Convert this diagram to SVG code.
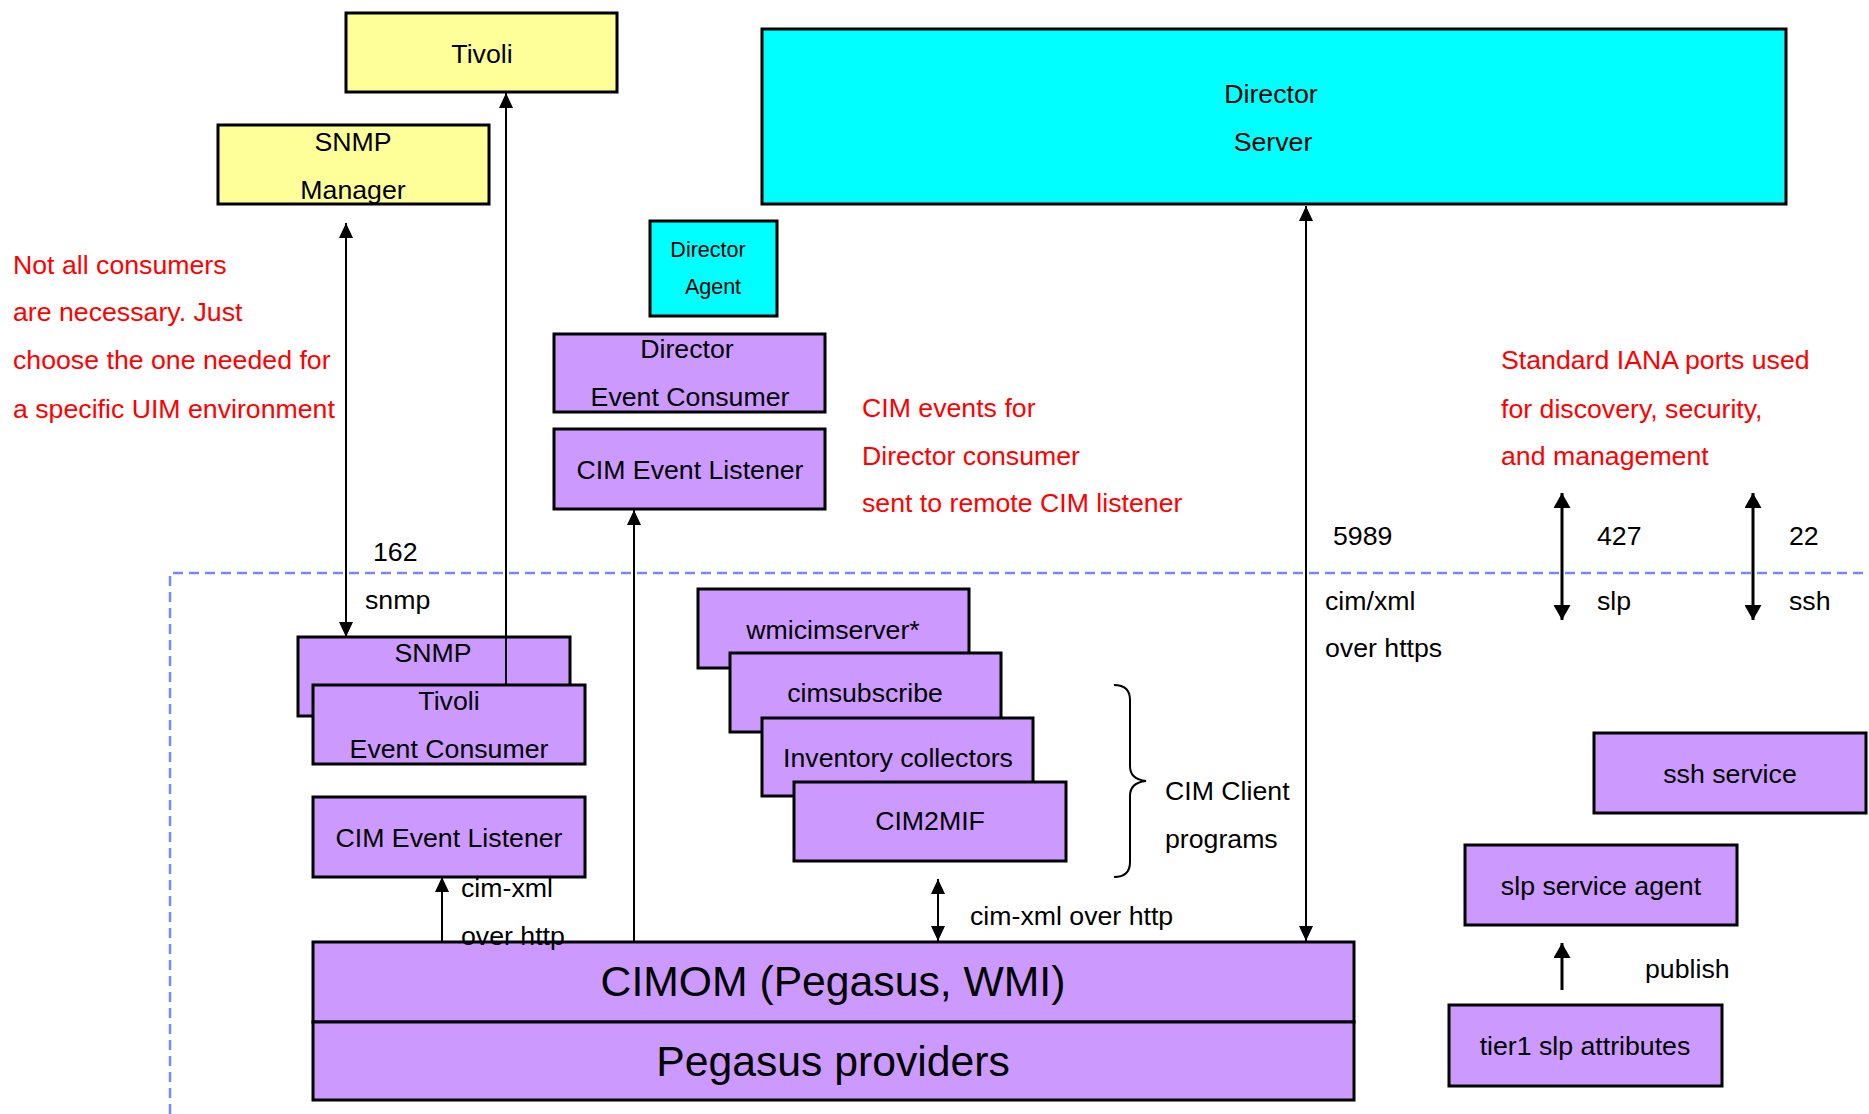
<svg xmlns="http://www.w3.org/2000/svg" width="1869" height="1114" viewBox="0 0 1869 1114">
<style>
text{font-family:"Liberation Sans",Arial,sans-serif;font-size:26.7px;fill:#000}
.c{text-anchor:middle}
.red{fill:#ff0000}
.big{font-size:42.7px}
.sm{font-size:21.5px}
.box{stroke:#000;stroke-width:3}
.yel{fill:#ffff99}
.cy{fill:#00ffff}
.pu{fill:#cc99ff}
.ln{stroke:#000;stroke-width:2;fill:none}
.thk{stroke-width:3}
.dash{stroke:#7788ff;stroke-width:2.5;fill:none;stroke-dasharray:10 6}
</style>
<defs>
<marker id="ah" viewBox="0 0 15 14" refX="15" refY="7" markerWidth="15" markerHeight="14" markerUnits="userSpaceOnUse" orient="auto-start-reverse">
<path d="M0,0 L15,7 L0,14 z" fill="#000"/>
</marker>
<marker id="ahb" viewBox="0 0 15 17" refX="15" refY="8.5" markerWidth="15" markerHeight="17" markerUnits="userSpaceOnUse" orient="auto-start-reverse">
<path d="M0,0 L15,8.5 L0,17 z" fill="#000"/>
</marker>
</defs>
<rect width="1869" height="1114" fill="#fff"/>
<path class="dash" d="M170,1114 V573 H1869"/>

<g id="tivoli"><rect class="box yel" x="346" y="13" width="271" height="79"/><text class="c" x="482" y="63">Tivoli</text></g>
<g id="snmp-manager"><rect class="box yel" x="218" y="125" width="271" height="79"/><text class="c" x="353" y="151">SNMP</text><text class="c" x="353" y="199">Manager</text></g>
<g id="director-server"><rect class="box cy" x="762" y="29" width="1024" height="175"/><text class="c" x="1271" y="103">Director</text><text class="c" x="1273" y="151">Server</text></g>
<g id="director-agent"><rect class="box cy" x="650" y="221" width="127" height="95"/><text class="c sm" x="708" y="257">Director</text><text class="c sm" x="713" y="294">Agent</text></g>
<g id="director-event-consumer"><rect class="box pu" x="554" y="334" width="271" height="78"/><text class="c" x="687" y="358">Director</text><text class="c" x="690" y="406">Event Consumer</text></g>
<g id="cim-event-listener-top"><rect class="box pu" x="554" y="429" width="271" height="80"/><text class="c" x="690" y="479">CIM Event Listener</text></g>

<g id="snmp-consumer"><rect class="box pu" x="298" y="637" width="272" height="79"/><text class="c" x="433" y="662">SNMP</text></g>
<g id="tivoli-event-consumer"><rect class="box pu" x="313" y="685" width="272" height="79"/><text class="c" x="449" y="710">Tivoli</text><text class="c" x="449" y="758">Event Consumer</text></g>
<g id="cim-event-listener-bottom"><rect class="box pu" x="313" y="797" width="272" height="80"/><text class="c" x="449" y="847">CIM Event Listener</text></g>

<g id="wmicimserver"><rect class="box pu" x="698" y="589" width="271" height="79"/><text class="c" x="833" y="639">wmicimserver*</text></g>
<g id="cimsubscribe"><rect class="box pu" x="730" y="653" width="271" height="79"/><text class="c" x="865" y="702">cimsubscribe</text></g>
<g id="inventory-collectors"><rect class="box pu" x="762" y="718" width="271" height="78"/><text class="c" x="898" y="767">Inventory collectors</text></g>
<g id="cim2mif"><rect class="box pu" x="794" y="782" width="272" height="79"/><text class="c" x="930" y="830">CIM2MIF</text></g>

<g id="cimom"><rect class="box pu" x="313" y="942" width="1041" height="80"/><text class="c big" x="833" y="996">CIMOM (Pegasus, WMI)</text></g>
<g id="pegasus-providers"><rect class="box pu" x="313" y="1022" width="1041" height="78"/><text class="c big" x="833" y="1076">Pegasus providers</text></g>

<g id="ssh-service"><rect class="box pu" x="1594" y="733" width="272" height="80"/><text class="c" x="1730" y="783">ssh service</text></g>
<g id="slp-service-agent"><rect class="box pu" x="1465" y="845" width="272" height="80"/><text class="c" x="1601" y="895">slp service agent</text></g>
<g id="tier1-slp-attributes"><rect class="box pu" x="1449" y="1005" width="273" height="81"/><text class="c" x="1585" y="1055">tier1 slp attributes</text></g>

<g id="notes">
<text class="red" x="13" y="274">Not all consumers</text>
<text class="red" x="13" y="321">are necessary. Just</text>
<text class="red" x="13" y="369">choose the one needed for</text>
<text class="red" x="13" y="418">a specific UIM environment</text>
<text class="red" x="862" y="417">CIM events for</text>
<text class="red" x="862" y="465">Director consumer</text>
<text class="red" x="862" y="512">sent to remote CIM listener</text>
<text class="red" x="1501" y="369">Standard IANA ports used</text>
<text class="red" x="1501" y="418">for discovery, security,</text>
<text class="red" x="1501" y="465">and management</text>
<path class="ln" stroke-width="2.5" d="M1114,685 C1124,685 1130,690 1130,700 L1130,766 C1130,775 1136,780 1146,781 C1136,782 1130,787 1130,796 L1130,862 C1130,872 1124,877 1114,877"/>
<text x="1165" y="800">CIM Client</text>
<text x="1165" y="848">programs</text>
</g>

<g id="connectors">
<line class="ln" x1="346" y1="223" x2="346" y2="637" marker-start="url(#ah)" marker-end="url(#ah)"/>
<line class="ln" x1="506" y1="685" x2="506" y2="93" marker-end="url(#ah)"/>
<line class="ln" x1="634" y1="942" x2="634" y2="510" marker-end="url(#ah)"/>
<line class="ln" x1="1306" y1="206" x2="1306" y2="941" marker-start="url(#ah)" marker-end="url(#ah)"/>
<line class="ln" x1="938" y1="879" x2="938" y2="941" marker-start="url(#ah)" marker-end="url(#ah)"/>
<line class="ln" x1="442" y1="942" x2="442" y2="877" marker-end="url(#ah)"/>
<line class="ln thk" x1="1562" y1="493" x2="1562" y2="620" marker-start="url(#ahb)" marker-end="url(#ahb)"/>
<line class="ln thk" x1="1753" y1="493" x2="1753" y2="620" marker-start="url(#ahb)" marker-end="url(#ahb)"/>
<line class="ln thk" x1="1562" y1="990" x2="1562" y2="943" marker-end="url(#ahb)"/>
<text x="373" y="561">162</text>
<text x="365" y="609">snmp</text>
<text x="1333" y="545">5989</text>
<text x="1325" y="610">cim/xml</text>
<text x="1325" y="657">over https</text>
<text x="1597" y="545">427</text>
<text x="1597" y="610">slp</text>
<text x="1789" y="545">22</text>
<text x="1789" y="610">ssh</text>
<text x="970" y="925">cim-xml over http</text>
<text x="461" y="897">cim-xml</text>
<text x="461" y="945">over http</text>
<text x="1645" y="978">publish</text>
</g>
</svg>
